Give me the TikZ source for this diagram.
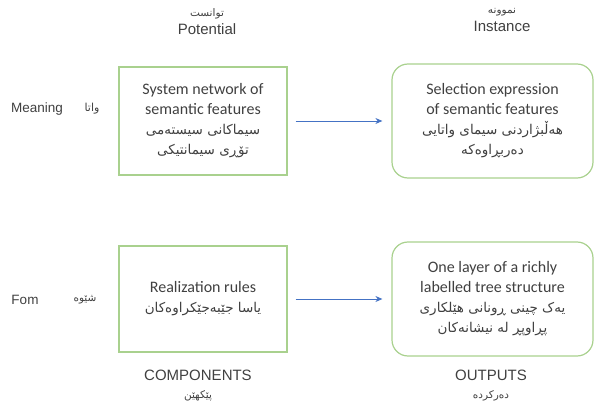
\documentclass[tikz,border=0pt]{standalone}
\usepackage{fontspec}
\setmainfont{Carlito}
\newfontfamily\headfont{Liberation Sans}
\newfontfamily\kurdfont[Script=Arabic]{DejaVu Sans}
\TeXXeTstate=1
\usetikzlibrary{arrows.meta,positioning}
\definecolor{boxGreen}{HTML}{A9D18E}
\definecolor{flowBlue}{HTML}{4472C4}
\definecolor{inkGray}{HTML}{404040}
% kurdish line, right to left
\newcommand{\kurd}[2][13.5]{{\kurdfont\fontsize{#1}{22}\selectfont\beginR #2\endR}}

\begin{document}
\begin{tikzpicture}[x=1pt, y=-1pt,
    compbox/.style={draw=boxGreen, line width=1.2pt, minimum width=168pt,
        align=center, text=inkGray, font=\fontsize{16}{20}\selectfont},
    outbox/.style={compbox, rounded corners=16pt, minimum width=201pt},
    headlbl/.style={font=\headfont\fontsize{15}{18}\selectfont, text=inkGray, align=center},
    flow/.style={draw=flowBlue, line width=0.9pt, -{Stealth[length=7pt,width=6pt]},
        shorten <=8pt, shorten >=9pt}]
    \useasboundingbox (0,0) rectangle (598,409);

    % column heads
    \node[headlbl] (pothead) at (207,22) {\kurd[10.5]{توانست}\\Potential};
    \node[headlbl] (insthead) at (502,20) {\kurd[10.5]{نموونە}\\Instance};

    % row labels
    \node[headlbl, font=\headfont\fontsize{13.5}{16}\selectfont] (meanlbl) at (37,109) {Meaning};
    \node[headlbl] (meankurd) at (92,109) {\kurd[11]{واتا}};
    \node[headlbl, font=\headfont\fontsize{13.5}{16}\selectfont] (formlbl) at (25,300) {Fom};
    \node[headlbl] (formkurd) at (85,300) {\kurd[10.5]{شێوە}};

    % boxes
    \node[compbox, minimum height=108pt] (sysnet) at (203,121)
        {System network of\\semantic features\\\kurd{سیماکانی سیستەمی}\\\kurd{تۆڕی سیمانتیکی}};
    \node[outbox, minimum height=114pt] (selexp) at (492.5,121)
        {Selection expression\\of semantic features\\\kurd{هەڵبژاردنی سیمای واتایی}\\\kurd{دەربڕاوەکە}};
    \node[compbox, minimum height=106pt] (realrules) at (203,299)
        {Realization rules\\\kurd{یاسا جێبەجێکراوەکان}};
    \node[outbox, minimum height=114pt] (treelayer) at (492.5,299)
        {One layer of a richly\\labelled tree structure\\\kurd{یەک چینی ڕونانی هێلکاری}\\\kurd{پڕاوپڕ لە نیشانەکان}};

    % connectors
    \draw[flow] (sysnet) -- (selexp);
    \draw[flow] (realrules) -- (treelayer);

    % column feet
    \node[headlbl] (compfoot) at (198,386) {COMPONENTS\\\kurd[10.5]{پێکهێن}};
    \node[headlbl] (outfoot) at (491,386) {OUTPUTS\\\kurd[10.5]{دەرکردە}};
\end{tikzpicture}
\end{document}
